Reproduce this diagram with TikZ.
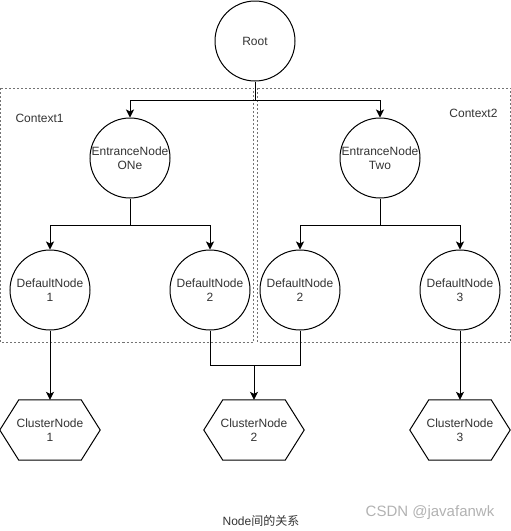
\documentclass[tikz,border=0pt]{standalone}
\usepackage{fontspec}
\setmainfont{Liberation Sans}
\newfontfamily\cjk{Noto Sans CJK SC}
\usetikzlibrary{arrows.meta}
\begin{document}
\begin{tikzpicture}[x=1pt,y=-1pt,
  every node/.style={font=\fontsize{12}{14}\selectfont, text=black!80},
  circ/.style={draw=black, line width=1pt, circle, minimum size=80pt, inner sep=0pt, align=center},
  hexbox/.style={minimum width=100pt, minimum height=60pt, inner sep=0pt, align=center},
  ctxbox/.style={draw=black!55, line width=0.8pt, dash pattern=on 2pt off 2pt},
  conn/.style={draw=black, line width=1pt},
  arr/.style={conn, -{Stealth[length=8pt,width=8pt,inset=2pt]}},
  hexline/.style={draw=black, line width=1pt, line join=miter}
]
\useasboundingbox (0,0) rectangle (511,531);
% context boxes
\draw[ctxbox] (0.5,88) rectangle (253.5,342);
\draw[ctxbox] (257.5,88) rectangle (510.5,342);
\node[anchor=west] (ctx1) at (12,118) {Context1};
\node[anchor=east] (ctx2) at (501,113) {Context2};
% circles
\node[circ] (root) at (255,41) {Root};
\node[circ] (e1) at (130,158) {EntranceNode\\ONe};
\node[circ] (e2) at (380,158) {EntranceNode\\Two};
\node[circ] (d1) at (50,290) {DefaultNode\\1};
\node[circ] (d2a) at (210,290) {DefaultNode\\2};
\node[circ] (d2b) at (300,290) {DefaultNode\\2};
\node[circ] (d3) at (460,290) {DefaultNode\\3};
% hexagons
\node[hexbox] (c1) at (50,430) {ClusterNode\\1};
\node[hexbox] (c2) at (254,430) {ClusterNode\\2};
\node[hexbox] (c3) at (460,430) {ClusterNode\\3};
\foreach \h in {c1,c2,c3}{
  \draw[hexline] (\h.west) -- ([xshift=19pt]\h.north west) -- ([xshift=-19pt]\h.north east)
    -- (\h.east) -- ([xshift=-19pt]\h.south east) -- ([xshift=19pt]\h.south west) -- cycle;
}
% junctions
\coordinate (j0) at (255,100);
\coordinate (j1) at (130,225);
\coordinate (j2) at (380,225);
\coordinate (j3) at (254,365);
% connectors
\draw[conn] (root.south) -- (j0);
\draw[arr] (j0) -| (e1.north);
\draw[arr] (j0) -| (e2.north);
\draw[conn] (e1.south) -- (j1);
\draw[arr] (j1) -| (d1.north);
\draw[arr] (j1) -| (d2a.north);
\draw[conn] (e2.south) -- (j2);
\draw[arr] (j2) -| (d2b.north);
\draw[arr] (j2) -| (d3.north);
\draw[arr] (d1.south) -- (c1.north);
\draw[arr] (d3.south) -- (c3.north);
\draw[conn] (d2a.south) |- (j3);
\draw[conn] (d2b.south) |- (j3);
\draw[arr] (j3) -- (c2.north);
% captions
\node (cap) at (261,521) {Node{\cjk 间的关系}};
\node[font=\fontsize{15}{17}\selectfont, text=black!30] (wm) at (430,513) {CSDN @javafanwk};
\end{tikzpicture}
\end{document}
